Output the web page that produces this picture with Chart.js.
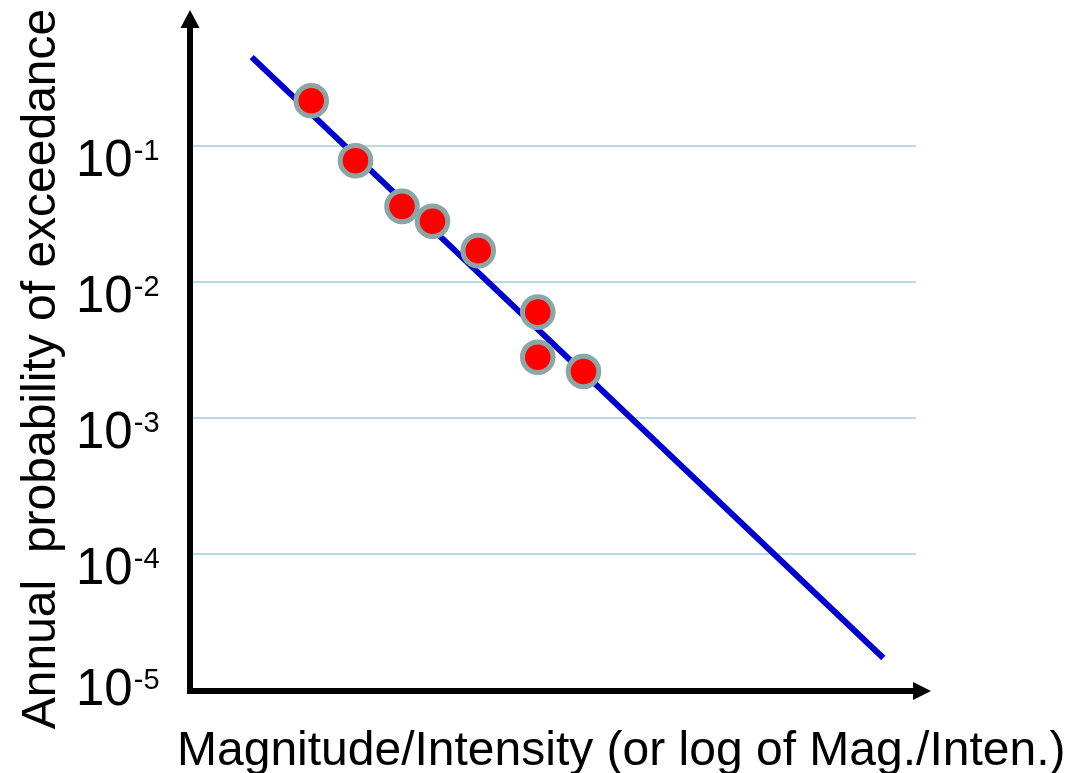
<!DOCTYPE html>
<html>
<head>
<meta charset="utf-8">
<title>Annual probability of exceedance</title>
<script src="https://cdn.jsdelivr.net/npm/chart.js@4.4.1/dist/chart.umd.min.js"></script>
<style>
  html, body { margin: 0; padding: 0; background: #ffffff; }
  #wrap { width: 1071px; height: 773px; }
</style>
</head>
<body>
<div id="wrap"><canvas id="chart" width="1071" height="773"></canvas></div>
<script>
// Observed events: magnitude (arbitrary units) and annual exceedance probability
const eventMagnitude   = [1.67, 2.28, 2.92, 3.34, 3.97, 4.79, 4.79, 5.42];
const eventProbability = [0.215, 0.078, 0.036, 0.028, 0.017, 0.0060, 0.0028, 0.0022];

// Fitted recurrence line (end points)
const fitMagnitude   = [0.85, 9.55];
const fitProbability = [0.45, 1.72e-5];

// Decade ticks on the probability axis and their exponents
const yTickValues    = [1e-1, 1e-2, 1e-3, 1e-4, 1e-5];
const yTickExponents = ['-1', '-2', '-3', '-4', '-5'];

const xTitle = 'Magnitude/Intensity (or log of Mag./Inten.)';
const yTitle = 'Annual  probability of exceedance';

const FONT = '"Liberation Sans", Arial, Helvetica, sans-serif';

// Axis arrows, decade labels with superscript exponents and axis titles
const decorations = {
  id: 'decorations',
  afterDraw(chart) {
    const ctx = chart.ctx;
    const area = chart.chartArea;
    const yScale = chart.scales.y;
    ctx.save();

    // vertical axis with arrow
    const ax = area.left;
    const ay = area.bottom + 1;
    ctx.strokeStyle = '#000';
    ctx.fillStyle = '#000';
    ctx.lineWidth = 6;
    ctx.lineCap = 'butt';
    ctx.beginPath();
    ctx.moveTo(ax, ay + 3);
    ctx.lineTo(ax, area.top + 16);
    ctx.stroke();
    ctx.beginPath();
    ctx.moveTo(ax, area.top);
    ctx.lineTo(ax - 9.5, area.top + 18);
    ctx.lineTo(ax + 9.5, area.top + 18);
    ctx.closePath();
    ctx.fill();

    // horizontal axis with arrow
    ctx.beginPath();
    ctx.moveTo(ax - 3, ay);
    ctx.lineTo(area.right + 0, ay);
    ctx.stroke();
    ctx.beginPath();
    ctx.moveTo(area.right + 15, ay);
    ctx.lineTo(area.right - 3, ay - 9);
    ctx.lineTo(area.right - 3, ay + 9);
    ctx.closePath();
    ctx.fill();

    // decade labels: "10" with superscript exponent
    ctx.textAlign = 'left';
    ctx.textBaseline = 'alphabetic';
    yTickValues.forEach((v, i) => {
      const py = yScale.getPixelForValue(v);
      const base = Math.min(py + 30, area.bottom + 15);
      const x0 = area.left - 114;
      ctx.font = '51px ' + FONT;
      ctx.fillText('10', x0, base);
      const w = ctx.measureText('10').width;
      ctx.font = '29px ' + FONT;
      ctx.fillText(yTickExponents[i], x0 + w + 1, base - 16);
    });

    // axis titles
    ctx.font = '48px ' + FONT;
    ctx.textAlign = 'left';
    ctx.fillText(xTitle, 177, 765);

    ctx.save();
    ctx.translate(55, 369);
    ctx.rotate(-Math.PI / 2);
    ctx.textAlign = 'center';
    ctx.fillText(yTitle, 0, 0);
    ctx.restore();

    ctx.restore();
  }
};

const zeroSize = (scale) => { scale.width = scale.isHorizontal() ? scale.width : 0; scale.height = scale.isHorizontal() ? 0 : scale.height; };

new Chart(document.getElementById('chart'), {
  type: 'scatter',
  data: {
    datasets: [
      {
        label: 'Observed',
        data: eventMagnitude.map((m, i) => ({ x: m, y: eventProbability[i] })),
        backgroundColor: '#ff0000',
        borderColor: '#8ea5a5',
        borderWidth: 5,
        pointRadius: 15.3,
        pointHoverRadius: 15.3,
        order: 1
      },
      {
        label: 'Fit',
        type: 'line',
        data: fitMagnitude.map((m, i) => ({ x: m, y: fitProbability[i] })),
        borderColor: '#0000c8',
        borderWidth: 6,
        pointRadius: 0,
        fill: false,
        tension: 0,
        order: 2
      }
    ]
  },
  options: {
    responsive: false,
    animation: false,
    events: [],
    clip: false,
    layout: { autoPadding: false, padding: { left: 190, right: 155, top: 10, bottom: 83 } },
    plugins: {
      legend: { display: false },
      tooltip: { enabled: false },
      title: { display: false }
    },
    scales: {
      x: {
        type: 'linear',
        min: 0,
        max: 10,
        afterFit: zeroSize,
        ticks: { display: false },
        grid: { display: false, drawTicks: false },
        border: { display: false },
        title: { display: false }
      },
      y: {
        type: 'logarithmic',
        min: 1e-5,
        max: 1,
        afterFit: zeroSize,
        afterBuildTicks: (scale) => {
          scale.ticks = [1e-5, 1e-4, 1e-3, 1e-2, 1e-1, 1].map(v => ({ value: v }));
        },
        ticks: { display: false },
        grid: {
          drawTicks: false,
          lineWidth: 2,
          color: (c) => {
            const v = c.tick ? c.tick.value : null;
            return (v === 1e-5 || v === 1) ? 'rgba(0,0,0,0)' : '#b3dce0';
          }
        },
        border: { display: false },
        title: { display: false }
      }
    }
  },
  plugins: [decorations]
});
</script>
</body>
</html>
